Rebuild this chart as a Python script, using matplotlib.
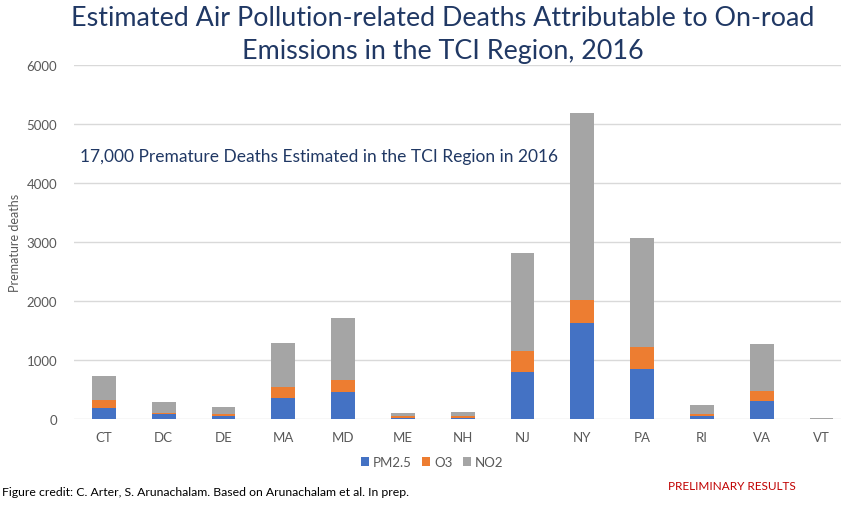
import matplotlib.pyplot as plt
import numpy as np

# Data
states = ['CT', 'DC', 'DE', 'MA', 'MD', 'ME', 'NH', 'NJ', 'NY', 'PA', 'RI', 'VA', 'VT']
pm25 = [186, 79, 45, 350, 463, 23, 17, 791, 1635, 847, 51, 311, 5]
o3 = [142, 17, 34, 198, 192, 22, 34, 367, 382, 379, 34, 169, 3]
no2 = [395, 186, 119, 734, 1063, 62, 68, 1650, 3169, 1836, 152, 786, 12]

plt.rcParams['font.family'] = ['Lato', 'DejaVu Sans']

W, H = 841, 506
fig = plt.figure(figsize=(W / 100, H / 100), dpi=100)

# axes placed in pixel terms: left 74, right 841, top 66, bottom 420
ax = fig.add_axes([74 / W, (H - 420) / H, (841 - 74) / W, (420 - 66) / H])

x = np.arange(len(states))
pm25 = np.array(pm25)
o3 = np.array(o3)
no2 = np.array(no2)
width = 0.4
ax.bar(x, pm25, width, color='#4472C4', label='PM2.5', zorder=3)
ax.bar(x, o3, width, bottom=pm25, color='#ED7D31', label='O3', zorder=3)
ax.bar(x, no2, width, bottom=pm25 + o3, color='#A5A5A5', label='NO2', zorder=3)

ax.set_xlim(-0.5, -0.5 + 767 / 59.8)
ax.set_ylim(0, 6000)
ax.set_yticks(range(0, 6001, 1000))
ax.set_xticks(x)
ax.set_xticklabels(states)
ax.grid(axis='y', color='#D9D9D9', linewidth=1, zorder=0)
for s in ax.spines.values():
    s.set_visible(False)
ax.tick_params(length=0, colors='#595959', labelsize=9.5)
ax.tick_params(axis='x', pad=9)
ax.tick_params(axis='y', pad=12)
ax.set_ylabel('Premature deaths', color='#595959', fontsize=9, labelpad=4)

# annotation inside the plot
fig.text(80 / W, 1 - 157 / H, '17,000 Premature Deaths Estimated in the TCI Region in 2016',
         fontsize=12.5, color='#203864', va='center', ha='left')

fig.text(443 / W, 1 - 18 / H, 'Estimated Air Pollution-related Deaths Attributable to On-road',
         ha='center', va='center', fontsize=19.4, color='#203864')
fig.text(443 / W, 1 - 52 / H, 'Emissions in the TCI Region, 2016',
         ha='center', va='center', fontsize=19.4, color='#203864')

ax.legend(loc='center', bbox_to_anchor=(432 / W, 1 - 463 / H), bbox_transform=fig.transFigure,
          ncol=3, frameon=False, fontsize=9.5, handlelength=0.6, handleheight=0.6,
          handletextpad=0.3, columnspacing=0.8, labelcolor='#595959')

fig.text(2 / W, 1 - 493 / H, 'Figure credit: C. Arter, S. Arunachalam. Based on Arunachalam et al. In prep.',
         fontsize=8.8, color='black', va='center', ha='left')
fig.text(732 / W, 1 - 487 / H, 'PRELIMINARY RESULTS', fontsize=8.5, color='#C00000',
         va='center', ha='center')

fig.savefig('out.png', dpi=100)
